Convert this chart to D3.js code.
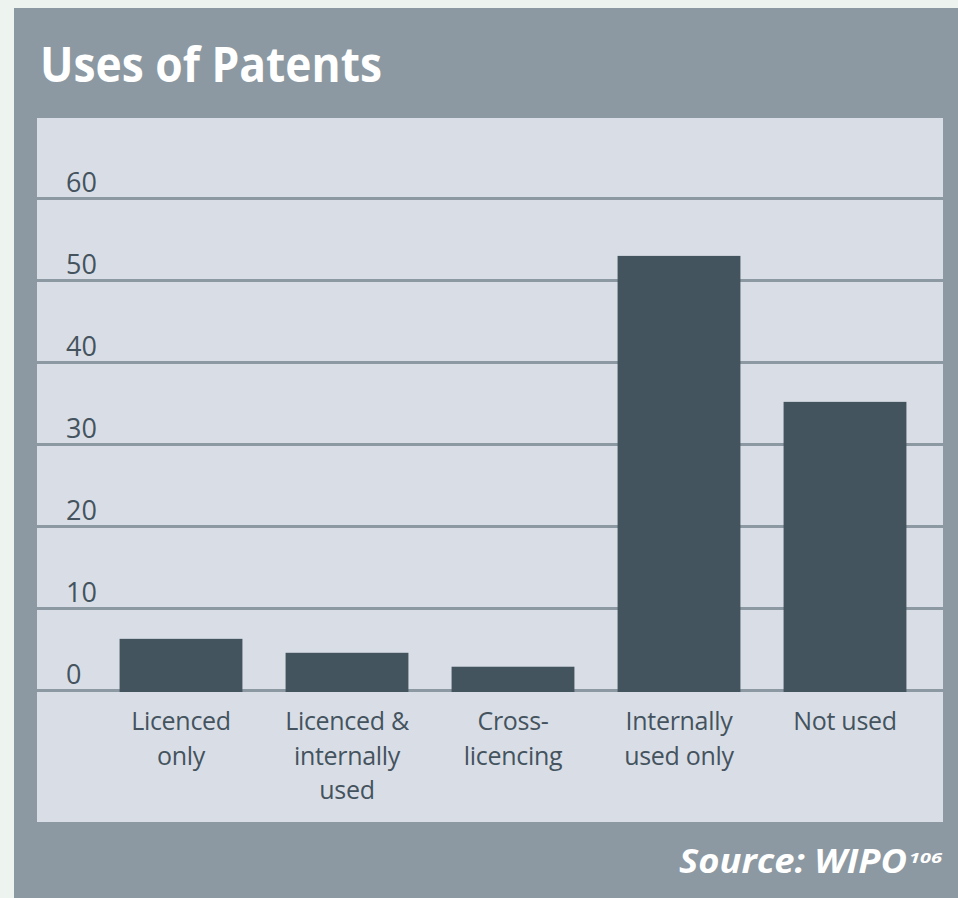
<!DOCTYPE html>
<html>
<head>
<meta charset="utf-8">
<script src="https://cdn.jsdelivr.net/npm/d3@7"></script>
<style>
    body { margin: 0; background: #edf3ef; }
    svg { display: block; }
    text { font-family: "Open Sans", "DejaVu Sans", sans-serif; }
</style>
</head>
<body>
<div id="svg-container"></div>
<script>
// data
const categories = ['Licenced only', 'Licenced & internally used', 'Cross-licencing', 'Internally used only', 'Not used'];
const categoryLines = [
    ['Licenced', 'only'],
    ['Licenced &', 'internally', 'used'],
    ['Cross-', 'licencing'],
    ['Internally', 'used only'],
    ['Not used']
];
const values = [6.3, 4.6, 2.9, 53, 35.2];
const yTicks = [0, 10, 20, 30, 40, 50, 60];
const title = 'Uses of Patents';
const source = 'Source: WIPO';
const sourceNote = '106';

// dimensions
const dim = {
    width: 958,
    height: 898,
    outer: { x: 14, y: 8 },
    inner: { x: 37, y: 118, right: 943, bottom: 822 },
    plot: { left: 98, right: 928, top: 198.5, bottom: 690.5 }
}

const colors = {
    panel: '#8c99a2',
    inner: '#d9dee6',
    bar: '#44545f',
    text: '#44535e'
}

// canvas
const svg = d3.select('#svg-container')
    .append('svg')
    .attr('width', dim.width)
    .attr('height', dim.height)

svg.append('rect')
    .attr('x', dim.outer.x)
    .attr('y', dim.outer.y)
    .attr('width', dim.width - dim.outer.x)
    .attr('height', dim.height - dim.outer.y)
    .attr('fill', colors.panel)

svg.append('rect')
    .attr('x', dim.inner.x)
    .attr('y', dim.inner.y)
    .attr('width', dim.inner.right - dim.inner.x)
    .attr('height', dim.inner.bottom - dim.inner.y)
    .attr('fill', colors.inner)

// title
svg.append('text')
    .attr('x', 40)
    .attr('y', 82)
    .attr('fill', '#fff')
    .attr('font-size', 48)
    .attr('font-weight', 700)
    .attr('textLength', 342)
    .attr('lengthAdjust', 'spacingAndGlyphs')
    .text(title)

// scales
const xScale = d3.scaleBand()
    .domain(categories)
    .range([dim.plot.left, dim.plot.right])
    .paddingInner(0.26)
    .paddingOuter(0.13)

const yScale = d3.scaleLinear()
    .domain([0, 60])
    .range([dim.plot.bottom, dim.plot.top])

// gridlines + tick labels
const grid = svg.append('g')

grid.selectAll('line')
    .data(yTicks)
    .join('line')
    .attr('x1', dim.inner.x)
    .attr('x2', dim.inner.right)
    .attr('y1', d => yScale(d))
    .attr('y2', d => yScale(d))
    .attr('stroke', colors.panel)
    .attr('stroke-width', 3)

grid.selectAll('text')
    .data(yTicks)
    .join('text')
    .attr('x', 66)
    .attr('y', d => yScale(d) - 7)
    .attr('fill', colors.text)
    .attr('font-size', 27)
    .text(d => d)

// bars
svg.append('g')
    .selectAll('rect')
    .data(values)
    .join('rect')
    .attr('x', (d, i) => xScale(categories[i]))
    .attr('y', d => yScale(d))
    .attr('width', xScale.bandwidth())
    .attr('height', d => yScale(0) - yScale(d) + 1.5)
    .attr('fill', colors.bar)

// category labels: one text per category, lines as tspans
svg.append('g')
    .selectAll('text')
    .data(categoryLines)
    .join('text')
    .attr('transform', (d, i) => `translate(${xScale(categories[i]) + xScale.bandwidth() / 2}, 730)`)
    .attr('text-anchor', 'middle')
    .attr('fill', colors.text)
    .attr('font-size', 25)
    .attr('letter-spacing', -0.3)
    .selectAll('tspan')
    .data(d => d)
    .join('tspan')
        .attr('x', 0)
        .attr('dy', (d, j) => j === 0 ? 0 : 34.5)
        .text(d => d)

// source
svg.append('text')
    .attr('x', 679)
    .attr('y', 873)
    .attr('fill', '#fff')
    .attr('font-size', 34)
    .attr('font-weight', 700)
    .attr('font-style', 'italic')
    .attr('textLength', 228)
    .attr('lengthAdjust', 'spacingAndGlyphs')
    .text(source)

svg.append('text')
    .attr('x', 909)
    .attr('y', 863)
    .attr('fill', '#fff')
    .attr('font-size', 15)
    .attr('font-weight', 700)
    .attr('font-style', 'italic')
    .attr('textLength', 33)
    .attr('lengthAdjust', 'spacingAndGlyphs')
    .text(sourceNote)
</script>
</body>
</html>
